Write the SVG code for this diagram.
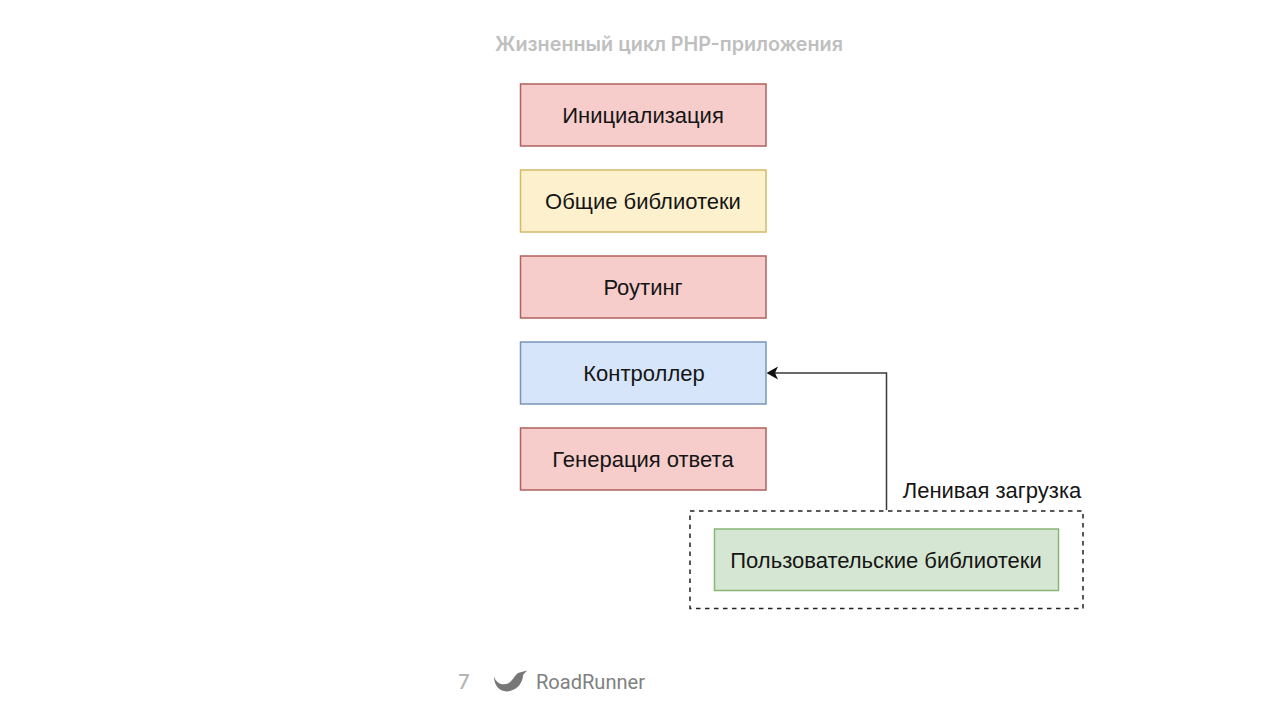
<svg xmlns="http://www.w3.org/2000/svg" width="1280" height="720" viewBox="0 0 1280 720">
<style>
text{font-family:"Liberation Sans",Arial,sans-serif;text-anchor:middle}
.n{font-size:22px;fill:#151515}
.b{stroke-width:1.5}
.r{fill:#f6cdcb;stroke:#b0625f}
.y{fill:#fdf1cd;stroke:#d2ba68}
.u{fill:#d6e5fa;stroke:#7a95b8}
.g{fill:#d5e7d3;stroke:#8ab577}
</style>
<rect width="1280" height="720" fill="#fff"/>
<text x="669" y="51" font-size="20" font-weight="600" fill="#bfbfbf" style="font-family:'Inter','Roboto',sans-serif" textLength="348" lengthAdjust="spacingAndGlyphs">Жизненный цикл PHP-приложения</text>
<g id="connectors">
<path d="M886.500 510V373H768" fill="none" stroke="#3a3a3a" stroke-width="1.5"/>
<path d="M766.500 373L778 366.500L775 373L778 379.500Z" fill="#111"/>
</g>
<g id="node-init"><rect class="b r" x="520.500" y="84" width="245.500" height="62"/><text class="n" x="643" y="123">Инициализация</text></g>
<g id="node-libs"><rect class="b y" x="520.500" y="170" width="245.500" height="62"/><text class="n" x="643" y="209">Общие библиотеки</text></g>
<g id="node-routing"><rect class="b r" x="520.500" y="256" width="245.500" height="62"/><text class="n" x="643" y="295">Роутинг</text></g>
<g id="node-controller"><rect class="b u" x="520.500" y="342" width="245.500" height="62"/><text class="n" x="644" y="381">Контроллер</text></g>
<g id="node-response"><rect class="b r" x="520.500" y="428" width="245.500" height="62"/><text class="n" x="643" y="467">Генерация ответа</text></g>
<g id="lazy-group"><rect x="690" y="511" width="393" height="97.500" fill="none" stroke="#222" stroke-width="1.500" stroke-dasharray="4.500 4.500"/><text class="n" x="992" y="498">Ленивая загрузка</text></g>
<g id="node-user-libs"><rect class="b g" x="714.500" y="529" width="344" height="61.500"/><text class="n" x="886" y="568">Пользовательские библиотеки</text></g>
<g id="footer">
<text x="464" y="689" font-size="20" font-weight="500" fill="#b5b5b5" style="font-family:'Inter','Roboto',sans-serif">7</text>
<path d="M494 676C496 684 503 686 509 683C513 680 515 675 518 673L527 670.500L523 675C523 682 518 689 510 691C501 693 494 687 494 676Z" fill="#777"/>
<text x="590.500" y="689" font-size="20" fill="#808080" style="font-family:'Roboto',sans-serif" textLength="109" lengthAdjust="spacingAndGlyphs">RoadRunner</text>
</g>
</svg>
